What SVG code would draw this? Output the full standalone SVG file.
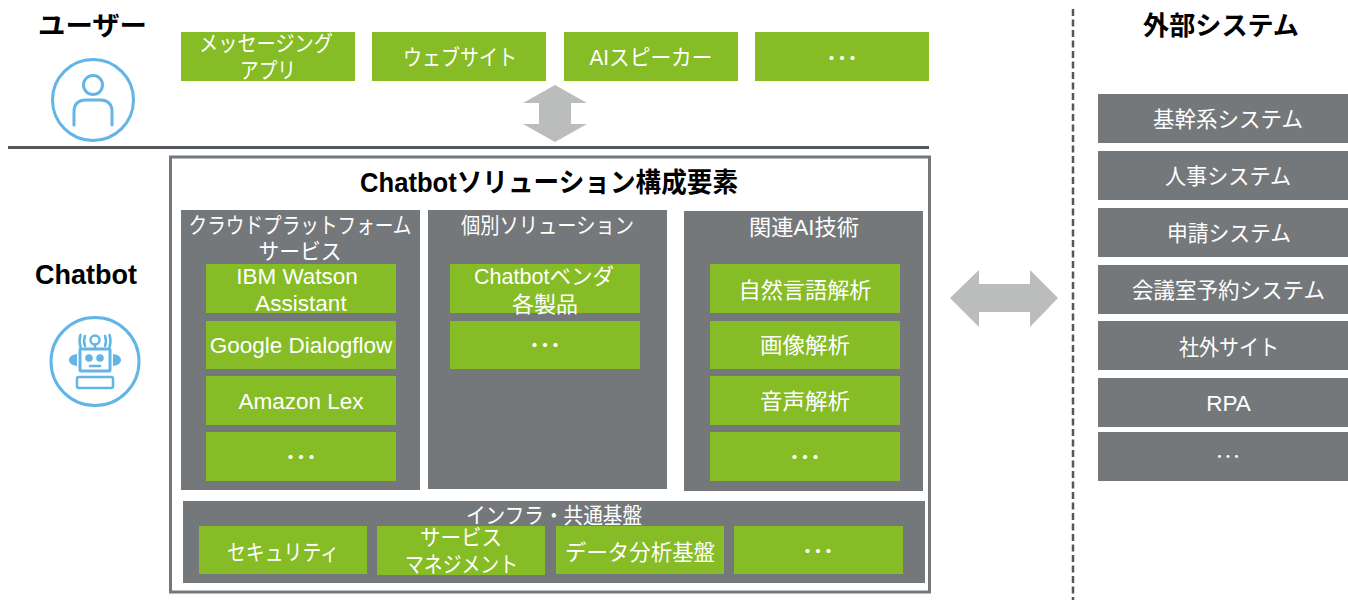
<svg xmlns="http://www.w3.org/2000/svg" width="1348" height="600" viewBox="0 0 1348 600">
<style>
text{font-family:"Liberation Sans","Noto Sans CJK JP",sans-serif;text-anchor:middle}
.g{fill:#86BC25}
.p{fill:#75787B}
.t{font-size:22px;fill:#fff;transform:translateY(1px)}
.l{font-size:22.500px;fill:#fff}
.d{font-size:21px;fill:#fff;font-weight:bold;transform:translateY(1px)}
.h{font-size:26px;font-weight:bold;fill:#000}
.ic{fill:none;stroke:#62B5E5;stroke-width:3}
.a{fill:#BBBCBC}
</style>
<rect width="1348" height="600" fill="#fff"/>
<g id="connectors">
<line x1="8" y1="147.500" x2="929" y2="147.500" stroke="#53565A" stroke-width="3"/>
<line x1="1073" y1="9" x2="1073" y2="600" stroke="#53565A" stroke-width="2.500" stroke-dasharray="7 3.500"/>
<polygon class="a" points="555,85 587,103 571,103 571,124 587,124 555,142 523,124 539,124 539,103 523,103"/>
<polygon class="a" points="950,298 979,270 979,284 1030,284 1030,270 1058,298 1030,327 1030,312 979,312 979,327"/>
</g>
<g id="user"><text class="h" x="92.500" y="35" textLength="109" lengthAdjust="spacingAndGlyphs">ユーザー</text>
<circle class="ic" cx="93" cy="100" r="40.500"/><circle class="ic" cx="93" cy="85" r="9.500"/><path class="ic" stroke-linecap="round" d="M74 125V112Q74 100 86 100H100Q112 100 112 112V125"/></g>
<g id="chatbot-label"><text class="h" x="86" y="284" style="font-size:27px">Chatbot</text>
<circle class="ic" cx="95" cy="361.500" r="44"/>
<g fill="none" stroke="#62B5E5" stroke-width="2.500" stroke-linecap="round"><circle cx="95" cy="340" r="4.500"/><path d="M95 345V348M85 336Q83 341 85 346M80.500 335Q78.500 341 80.500 347M105 336Q107 341 105 346M109.500 335Q111.500 341 109.500 347"/><rect x="80" y="349" width="30" height="22" rx="1" stroke-width="3"/><path d="M90 366H100"/><rect x="77" y="377" width="36" height="11" rx="2"/></g>
<g fill="#62B5E5"><circle cx="89" cy="358" r="3.800"/><circle cx="100" cy="358" r="3.800"/><path d="M77 354V366Q69 365 69 360Q69 355 77 354ZM113 354V366Q121 365 121 360Q121 355 113 354Z"/></g></g>
<g id="top-channels">
<g id="n-msg"><rect class="g" x="181" y="32" width="174" height="49"/><text class="t" x="266" y="50" textLength="134" lengthAdjust="spacingAndGlyphs">メッセージング</text><text class="t" x="268" y="77" textLength="56" lengthAdjust="spacingAndGlyphs">アプリ</text></g>
<g id="n-web"><rect class="g" x="372" y="32" width="174" height="49"/><text class="t" x="460" y="64" textLength="114" lengthAdjust="spacingAndGlyphs">ウェブサイト</text></g>
<g id="n-ai"><rect class="g" x="564" y="32" width="174" height="49"/><text class="t" x="651" y="64" textLength="123" lengthAdjust="spacingAndGlyphs">AIスピーカー</text></g>
<g id="n-more1"><rect class="g" x="755" y="32" width="174" height="49"/><text class="d" x="842" y="65">･･･</text></g>
</g>
<g id="solution"><rect x="170.500" y="157" width="759" height="435" fill="#fff" stroke="#75787B" stroke-width="3"/>
<text x="549" y="192" style="font-size:27px;font-weight:bold" textLength="378" lengthAdjust="spacingAndGlyphs">Chatbotソリューション構成要素</text></g>
<g id="cloud"><rect class="p" x="181" y="210" width="239" height="280"/><text class="t" x="300" y="232" textLength="223" lengthAdjust="spacingAndGlyphs">クラウドプラットフォーム</text><text class="t" x="300" y="258" textLength="83" lengthAdjust="spacingAndGlyphs">サービス</text>
<g id="n-watson"><rect class="g" x="206" y="264" width="190" height="49"/><text class="l" x="297" y="284">IBM Watson</text><text class="l" x="301" y="311">Assistant</text></g>
<g id="n-dialogflow"><rect class="g" x="206" y="321" width="190" height="48"/><text class="l" x="301" y="353">Google Dialogflow</text></g>
<g id="n-lex"><rect class="g" x="206" y="376" width="190" height="49"/><text class="l" x="301" y="409">Amazon Lex</text></g>
<g id="n-more2"><rect class="g" x="206" y="432" width="190" height="49"/><text class="d" x="301" y="464">･･･</text></g></g>
<g id="individual"><rect class="p" x="428" y="210" width="239" height="279"/><text class="t" x="547.500" y="232" textLength="173" lengthAdjust="spacingAndGlyphs">個別ソリューション</text>
<g id="n-vendor"><rect class="g" x="450" y="264" width="190" height="49"/><text class="t" x="544" y="283" textLength="140" lengthAdjust="spacingAndGlyphs">Chatbotベンダ</text><text class="t" x="545" y="311" textLength="66" lengthAdjust="spacingAndGlyphs">各製品</text></g>
<g id="n-more3"><rect class="g" x="450" y="321" width="190" height="48"/><text class="d" x="545" y="352">･･･</text></g></g>
<g id="ai-tech"><rect class="p" x="684" y="211" width="239" height="280"/><text class="t" x="804" y="234" textLength="110" lengthAdjust="spacingAndGlyphs">関連AI技術</text>
<g id="n-nlp"><rect class="g" x="710" y="264" width="190" height="49"/><text class="t" x="805" y="297" textLength="133" lengthAdjust="spacingAndGlyphs">自然言語解析</text></g>
<g id="n-image"><rect class="g" x="710" y="321" width="190" height="48"/><text class="t" x="805" y="352" textLength="90" lengthAdjust="spacingAndGlyphs">画像解析</text></g>
<g id="n-voice"><rect class="g" x="710" y="376" width="190" height="49"/><text class="t" x="805" y="408" textLength="90" lengthAdjust="spacingAndGlyphs">音声解析</text></g>
<g id="n-more4"><rect class="g" x="710" y="432" width="190" height="49"/><text class="d" x="805" y="464">･･･</text></g></g>
<g id="infra"><rect class="p" x="183" y="501" width="742" height="82"/><text class="t" x="554" y="522" textLength="176" lengthAdjust="spacingAndGlyphs">インフラ・共通基盤</text>
<g id="n-sec"><rect class="g" x="199" y="526" width="168" height="48"/><text class="t" x="283" y="559" textLength="112" lengthAdjust="spacingAndGlyphs">セキュリティ</text></g>
<g id="n-svc"><rect class="g" x="377" y="526" width="168" height="49"/><text class="t" x="461" y="544" textLength="82" lengthAdjust="spacingAndGlyphs">サービス</text><text class="t" x="461.500" y="571" textLength="113" lengthAdjust="spacingAndGlyphs">マネジメント</text></g>
<g id="n-data"><rect class="g" x="556" y="526" width="168" height="48"/><text class="t" x="640" y="559" textLength="150" lengthAdjust="spacingAndGlyphs">データ分析基盤</text></g>
<g id="n-more5"><rect class="g" x="734" y="526" width="169" height="48"/><text class="d" x="818" y="558">･･･</text></g></g>
<g id="external"><text class="h" x="1221" y="35" textLength="156" lengthAdjust="spacingAndGlyphs">外部システム</text>
<g id="n-core"><rect class="p" x="1098" y="94" width="250" height="49"/><text class="t" x="1228" y="126" textLength="150" lengthAdjust="spacingAndGlyphs">基幹系システム</text></g>
<g id="n-hr"><rect class="p" x="1098" y="151" width="250" height="49"/><text class="t" x="1228" y="183" textLength="126" lengthAdjust="spacingAndGlyphs">人事システム</text></g>
<g id="n-apply"><rect class="p" x="1098" y="208" width="250" height="49"/><text class="t" x="1229" y="240" textLength="124" lengthAdjust="spacingAndGlyphs">申請システム</text></g>
<g id="n-room"><rect class="p" x="1098" y="265" width="250" height="49"/><text class="t" x="1228.500" y="297" textLength="193" lengthAdjust="spacingAndGlyphs">会議室予約システム</text></g>
<g id="n-site"><rect class="p" x="1098" y="321" width="250" height="49"/><text class="t" x="1229" y="354" textLength="100" lengthAdjust="spacingAndGlyphs">社外サイト</text></g>
<g id="n-rpa"><rect class="p" x="1098" y="378" width="250" height="49"/><text class="l" x="1228.500" y="411">RPA</text></g>
<g id="n-more6"><rect class="p" x="1098" y="432" width="250" height="49"/><text class="t" x="1228" y="462" style="font-size:17px">･･･</text></g></g>
</svg>
